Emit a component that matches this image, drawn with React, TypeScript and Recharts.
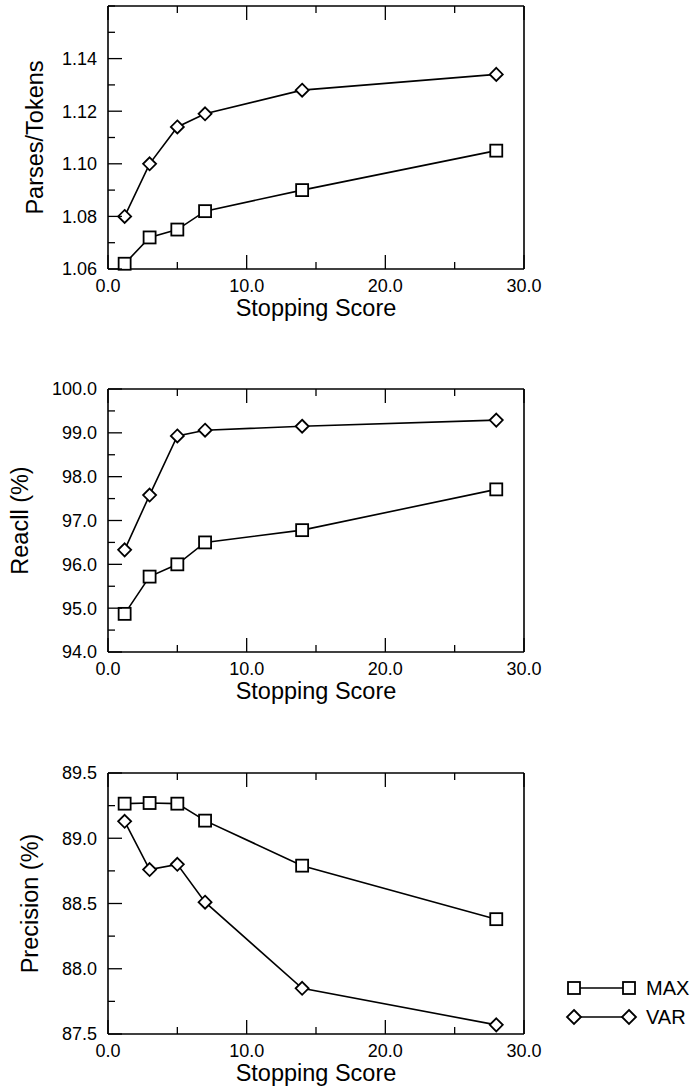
import React from 'react';
import { LineChart, Line, XAxis, YAxis, Legend, Label } from 'recharts';

// stopping score on the x axis, shared by all three panels
const stopScores = [1.2, 3, 5, 7, 14, 28];
const xTicks = [0, 5, 10, 15, 20, 25, 30];
const xLabels = [0, 10, 20, 30];

// Parses/Tokens
const maxParses = [1.062, 1.072, 1.075, 1.082, 1.09, 1.105];
const varParses = [1.08, 1.1, 1.114, 1.119, 1.128, 1.134];
const parsesTicks = [1.06, 1.07, 1.08, 1.09, 1.1, 1.11, 1.12, 1.13, 1.14, 1.15, 1.16];
const parsesLabels = [1.06, 1.08, 1.1, 1.12, 1.14];

// Recall
const maxRecall = [94.87, 95.72, 96.0, 96.5, 96.78, 97.71];
const varRecall = [96.33, 97.58, 98.93, 99.06, 99.15, 99.29];
const recallTicks = [94, 94.5, 95, 95.5, 96, 96.5, 97, 97.5, 98, 98.5, 99, 99.5, 100];
const recallLabels = [94, 95, 96, 97, 98, 99, 100];

// Precision
const maxPrecision = [89.265, 89.27, 89.265, 89.135, 88.79, 88.38];
const varPrecision = [89.13, 88.76, 88.8, 88.51, 87.85, 87.57];
const precisionTicks = [87.5, 87.75, 88, 88.25, 88.5, 88.75, 89, 89.25, 89.5];
const precisionLabels = [87.5, 88, 88.5, 89, 89.5];

const FONT = '"Liberation Sans", Arial, Helvetica, sans-serif';
const INK = '#000';

const isLabel = (labels: number[], v: number) => labels.some(l => Math.abs(l - v) < 1e-6);

const bottomTick = (labels: number[]) => (props: any) => {
  const { x, y, payload } = props;
  const major = isLabel(labels, payload.value);
  return (
    <g>
      <line x1={x} x2={x} y1={y} y2={y - (major ? 14 : 7)} stroke={INK} strokeWidth={1.3} />
      {major && (
        <text x={x} y={y + 23} textAnchor="middle" fontSize={18} fontFamily={FONT} fill={INK}>
          {payload.value.toFixed(1)}
        </text>
      )}
    </g>
  );
};

const topTick = (labels: number[]) => (props: any) => {
  const { x, y, payload } = props;
  const major = isLabel(labels, payload.value);
  return <line x1={x} x2={x} y1={y} y2={y + (major ? 14 : 7)} stroke={INK} strokeWidth={1.3} />;
};

const leftTick = (labels: number[], digits: number) => (props: any) => {
  const { x, y, payload } = props;
  const major = isLabel(labels, payload.value);
  return (
    <g>
      <line x1={x} x2={x + (major ? 14 : 7)} y1={y} y2={y} stroke={INK} strokeWidth={1.3} />
      {major && (
        <text x={x - 11} y={y} dy="0.36em" textAnchor="end" fontSize={18} fontFamily={FONT} fill={INK}>
          {payload.value.toFixed(digits)}
        </text>
      )}
    </g>
  );
};

const rightTick = (props: any) => {
  const { x, y } = props;
  return <line x1={x} x2={x - 12} y1={y} y2={y} stroke={INK} strokeWidth={1.3} />;
};

const SquareDot = (props: any) => {
  const { cx, cy, index } = props;
  if (cx == null || cy == null) return <g key={index} />;
  return <rect key={index} x={cx - 6} y={cy - 6} width={12} height={12} fill="#fff" stroke={INK} strokeWidth={1.8} />;
};

const DiamondDot = (props: any) => {
  const { cx, cy, index } = props;
  if (cx == null || cy == null) return <g key={index} />;
  const r = 6.5;
  return (
    <path
      key={index}
      d={`M${cx},${cy - r}L${cx + r},${cy}L${cx},${cy + r}L${cx - r},${cy}Z`}
      fill="#fff"
      stroke={INK}
      strokeWidth={1.8}
    />
  );
};

const LegendBox = (props: any) => {
  const items = props.payload || [];
  return (
    <svg width={136} height={60} style={{ display: 'block' }}>
      {items.map((item: any, i: number) => {
        const cy = 9 + i * 29;
        const square = item.dataKey === 'max';
        const mark = (cx: number) =>
          square ? (
            <rect x={cx - 6} y={cy - 6} width={12} height={12} fill="#fff" stroke={INK} strokeWidth={1.8} />
          ) : (
            <path d={`M${cx},${cy - 7}L${cx + 7},${cy}L${cx},${cy + 7}L${cx - 7},${cy}Z`} fill="#fff" stroke={INK} strokeWidth={1.8} />
          );
        return (
          <g key={item.value}>
            <line x1={14} x2={69} y1={cy} y2={cy} stroke={INK} strokeWidth={1.6} />
            {mark(14)}
            {mark(69)}
            <text x={86} y={cy} dy="0.36em" fontSize={20} fontFamily={FONT} fill={INK}>
              {item.value}
            </text>
          </g>
        );
      })}
    </svg>
  );
};

interface PanelProps {
  top: number;
  height: number;
  marginTop: number;
  marginBottom: number;
  yTitle: string;
  titleX: number;
  yDomain: [number, number];
  yTicks: number[];
  yLabels: number[];
  digits: number;
  maxVals: number[];
  varVals: number[];
  legend?: boolean;
}

const Panel: React.FC<PanelProps> = ({
  top, height, marginTop, marginBottom, yTitle, titleX, yDomain, yTicks, yLabels, digits, maxVals, varVals, legend,
}) => {
  const data = stopScores.map((s, i) => ({ score: s, max: maxVals[i], var: varVals[i] }));
  return (
    <div style={{ position: 'absolute', left: 0, top }}>
      <LineChart width={699} height={height} data={data}
        margin={{ top: marginTop - 1, right: 174, left: 107, bottom: marginBottom - 1 }}>
        <XAxis xAxisId="bottom" type="number" dataKey="score" domain={[0, 30]} ticks={xTicks} interval={0}
          height={1} tickSize={0} tickMargin={0} tickLine={false} tick={bottomTick(xLabels)}
          axisLine={{ stroke: INK, strokeWidth: 1.6 }}>
          <Label content={(p: any) => {
            const vb = p.viewBox;
            return (
              <text x={vb.x + vb.width / 2} y={vb.y + 47} textAnchor="middle" fontSize={23.5} fontFamily={FONT} fill={INK}>
                Stopping Score
              </text>
            );
          }} />
        </XAxis>
        <XAxis xAxisId="top" orientation="top" type="number" dataKey="score" domain={[0, 30]} ticks={xTicks} interval={0}
          height={1} tickSize={0} tickMargin={0} tickLine={false} tick={topTick(xLabels)}
          axisLine={{ stroke: INK, strokeWidth: 1.6 }} />
        <YAxis yAxisId="left" type="number" domain={yDomain} ticks={yTicks} interval={0}
          width={1} tickSize={0} tickMargin={0} tickLine={false} tick={leftTick(yLabels, digits)}
          axisLine={{ stroke: INK, strokeWidth: 1.6 }}>
          <Label content={(p: any) => {
            const vb = p.viewBox;
            const cy = vb.y + vb.height / 2;
            return (
              <text x={titleX} y={cy} transform={`rotate(-90 ${titleX} ${cy})`} textAnchor="middle"
                fontSize={23.5} fontFamily={FONT} fill={INK}>
                {yTitle}
              </text>
            );
          }} />
        </YAxis>
        <YAxis yAxisId="right" orientation="right" type="number" domain={yDomain} ticks={yTicks} interval={0}
          width={1} tickSize={0} tickMargin={0} tickLine={false} tick={rightTick}
          axisLine={{ stroke: INK, strokeWidth: 1.6 }} />
        <Line xAxisId="bottom" yAxisId="left" type="linear" dataKey="max" name="MAX" stroke={INK} strokeWidth={1.6}
          dot={SquareDot} activeDot={false} isAnimationActive={false} />
        <Line xAxisId="bottom" yAxisId="left" type="linear" dataKey="var" name="VAR" stroke={INK} strokeWidth={1.6}
          dot={DiamondDot} activeDot={false} isAnimationActive={false} />
        {legend && (
          <Legend layout="horizontal" verticalAlign="middle" content={LegendBox}
            wrapperStyle={{ left: 560, top: 249, width: 136, height: 60 }} />
        )}
      </LineChart>
    </div>
  );
}

export default function App() {
  return (
    <div style={{ position: 'absolute', left: 0, top: 0, width: 699, height: 1091, background: '#fff' }}>
      <Panel top={0} height={360} marginTop={6} marginBottom={91} yTitle="Parses/Tokens" titleX={43}
        yDomain={[1.06, 1.16]} yTicks={parsesTicks} yLabels={parsesLabels} digits={2}
        maxVals={maxParses} varVals={varParses} />
      <Panel top={365} height={360} marginTop={24} marginBottom={73} yTitle="Reacll (%)" titleX={28}
        yDomain={[94, 100]} yTicks={recallTicks} yLabels={recallLabels} digits={1}
        maxVals={maxRecall} varVals={varRecall} />
      <Panel top={730} height={361} marginTop={43} marginBottom={57} yTitle="Precision (%)" titleX={38}
        yDomain={[87.5, 89.5]} yTicks={precisionTicks} yLabels={precisionLabels} digits={1}
        maxVals={maxPrecision} varVals={varPrecision} legend />
    </div>
  );
}
